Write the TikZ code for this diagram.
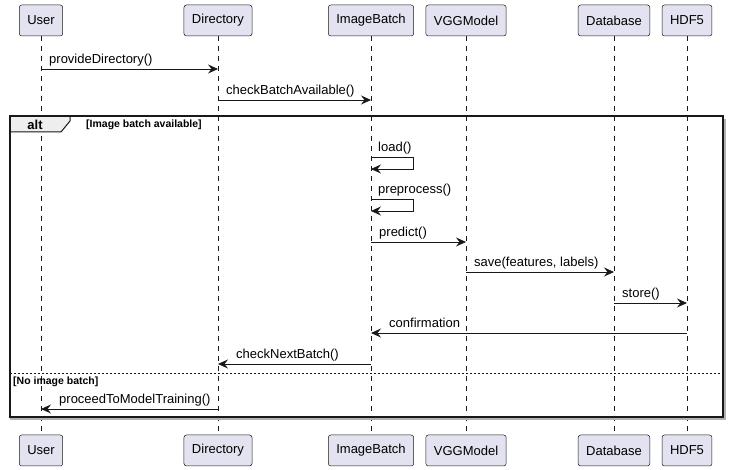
\documentclass[tikz,border=0pt]{standalone}
\usepackage{fontspec}
\setmainfont{Liberation Sans}
\usetikzlibrary{arrows.meta}
\definecolor{partFill}{HTML}{E2E2F0}
\definecolor{partLine}{HTML}{181818}
\definecolor{tabFill}{HTML}{EEEEEE}

\begin{document}
\begin{tikzpicture}
[x=1pt,y=-1pt,
  partDecorate/.style={shape=rectangle,rounded corners=2.5pt,draw=partLine,fill=partFill,line width=0.5pt,inner xsep=8pt,minimum height=31pt,font=\fontsize{13}{15}\selectfont},
  lifeDecorate/.style={draw=partLine,line width=0.5pt,dash pattern=on 5pt off 5pt},
  msgDecorate/.style={draw=partLine,line width=0.8pt,-{Stealth[length=10pt,width=9pt,inset=3.5pt]}},
  labelDecorate/.style={font=\fontsize{13}{15}\selectfont,inner sep=0pt,anchor=base west},
  guardDecorate/.style={font=\bfseries\fontsize{10.5}{12}\selectfont,inner sep=0pt,anchor=base west}]
\useasboundingbox (0,0) rectangle (729,470);
%% participants and lifelines
\foreach \name/\txt/\x in {user/User/41, dir/Directory/218, batch/ImageBatch/371,
    vgg/VGGModel/466, db/Database/614, hdf/HDF5/687} {
  \node (\name T) at (\x,20.5) [partDecorate] {\txt};
  \node (\name B) at (\x,450.5) [partDecorate] {\txt};
  \draw[lifeDecorate] (\name T) -- (\name B);
}
%% alt frame
\coordinate (frameNW) at (10,116);
\coordinate (frameSE) at (723,417);
\draw[gray!60,line width=1.5pt] ([xshift=2pt]frameSE |- frameNW) ++(0,3) -- ([xshift=2pt,yshift=-2pt]frameSE) -- ([yshift=-2pt]frameNW |- frameSE) ++(3,0);
\draw[line width=1pt,draw=partLine,fill=tabFill] (frameNW) -- (70,116) -- (70,121) -- (61,132) -- (10,132) -- cycle;
\draw[line width=1.5pt,draw=partLine] (frameNW) rectangle (frameSE);
\node (altTab) at (35,124.5) [font=\bfseries\fontsize{13}{15}\selectfont,inner sep=0pt] {alt};
\node (guardA) at (86,128) [guardDecorate] {[Image batch available]};
\draw[draw=partLine,line width=0.8pt,dash pattern=on 2pt off 2pt] (frameNW |- 0,373) -- (frameSE |- 0,373);
\node (guardB) at (13,385) [guardDecorate] {[No image batch]};
%% messages to the right
\foreach \src/\dst/\y/\txt [count=\i] in {user/dir/69/provideDirectory(), dir/batch/100/checkBatchAvailable(),
    batch/vgg/242/predict(), vgg/db/272/{save(features, labels)}, db/hdf/303/store()} {
  \draw[msgDecorate] (\src T |- 0,\y) -- (\dst T |- 0,\y);
  \node (msgR\i) at ([xshift=8pt,yshift=5pt]\src T |- 0,\y) [labelDecorate] {\txt};
}
%% messages to the left
\foreach \src/\dst/\y/\txt [count=\i] in {hdf/batch/333/confirmation, batch/dir/364/checkNextBatch(),
    dir/user/409/proceedToModelTraining()} {
  \draw[msgDecorate] (\src T |- 0,\y) -- (\dst T |- 0,\y);
  \node (msgL\i) at ([xshift=18pt,yshift=5pt]\dst T |- 0,\y) [labelDecorate] {\txt};
}
%% self messages
\foreach \txt/\y [count=\i] in {load()/157, preprocess()/199} {
  \draw[msgDecorate] (batchT |- 0,\y) -- ++(42,0) -- ++(0,12) -- (batchT |- 0,\y+12);
  \node (msgS\i) at ([xshift=7pt,yshift=5pt]batchT |- 0,\y) [labelDecorate] {\txt};
}
\end{tikzpicture}
\end{document}
